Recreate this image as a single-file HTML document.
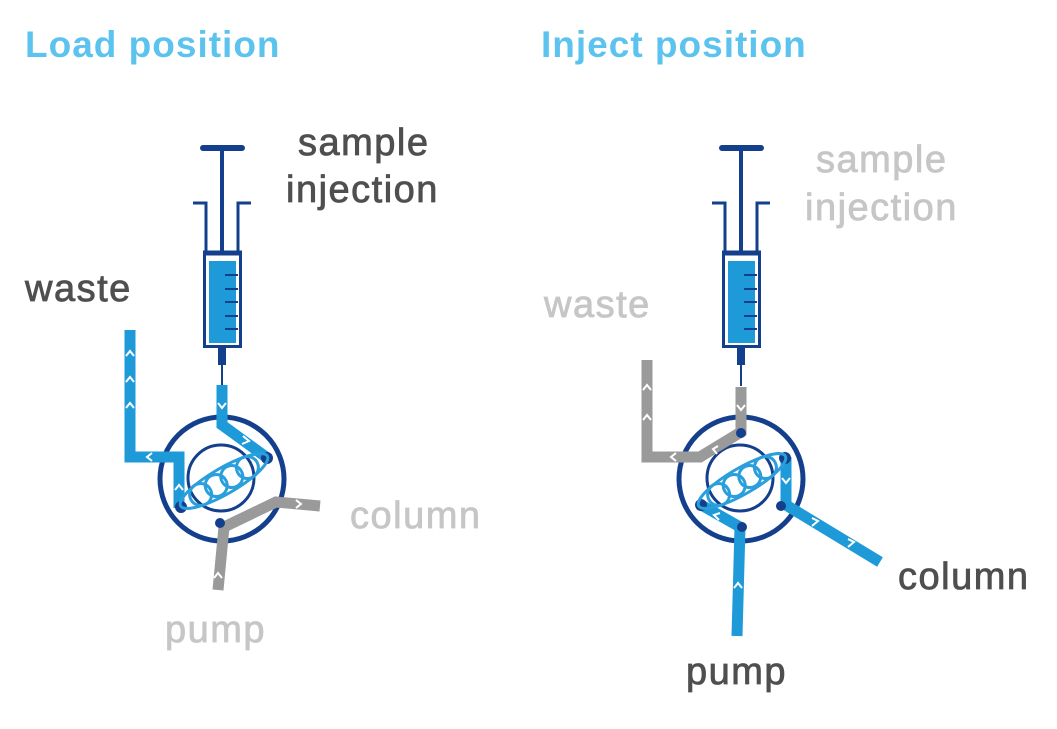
<!DOCTYPE html>
<html><head><meta charset="utf-8"><style>
html,body{margin:0;padding:0;background:#fff;}
svg{display:block;}
text{font-family:"Liberation Sans",sans-serif;}
.t{font-size:37px;font-weight:bold;fill:#5bc3ee;letter-spacing:1px;}
.d{font-size:38px;fill:#4f4f4f;stroke:#4f4f4f;stroke-width:0.8px;letter-spacing:1.5px;}
.g{font-size:38px;fill:#c6c6c6;stroke:#c6c6c6;stroke-width:0.8px;letter-spacing:1.5px;}
</style></head><body>
<svg width="1057" height="729" viewBox="0 0 1057 729" xmlns="http://www.w3.org/2000/svg">
<defs>
<g id="syr">
  <line x1="203" y1="148" x2="242" y2="148" stroke="#143f8c" stroke-width="6" stroke-linecap="round"/>
  <line x1="222" y1="148" x2="222" y2="252" stroke="#143f8c" stroke-width="4"/>
  <polyline points="193,203 206,203 206,253" fill="none" stroke="#143f8c" stroke-width="3"/>
  <polyline points="251,203 238,203 238,253" fill="none" stroke="#143f8c" stroke-width="3"/>
  <rect x="204.5" y="253.5" width="36" height="93" fill="#fff" stroke="#143f8c" stroke-width="3"/>
  <line x1="203" y1="253" x2="242" y2="253" stroke="#143f8c" stroke-width="5"/>
  <rect x="209" y="261" width="27" height="82" fill="#1f9ad8"/>
  <g stroke="#143f8c" stroke-width="2">
    <line x1="225" y1="275" x2="238" y2="275"/><line x1="225" y1="289" x2="238" y2="289"/>
    <line x1="225" y1="302" x2="238" y2="302"/><line x1="225" y1="316" x2="238" y2="316"/>
    <line x1="225" y1="329" x2="238" y2="329"/>
  </g>
  <rect x="218" y="348" width="8" height="17" fill="#143f8c"/>
  <line x1="222" y1="365" x2="222" y2="386" stroke="#143f8c" stroke-width="2"/>
</g>
<g id="valve">
  <circle cx="222" cy="479" r="62" fill="#fff" stroke="#143f8c" stroke-width="5"/>
  <circle cx="221" cy="478" r="33" fill="#fff" stroke="#143f8c" stroke-width="3"/>
</g>
<g id="coil" fill="none" stroke="#2a9fdc" stroke-width="3">
  <ellipse cx="0" cy="0" rx="50" ry="13"/>
  <circle cx="-27" cy="0" r="11"/><circle cx="-9" cy="0" r="11"/>
  <circle cx="9" cy="0" r="11"/><circle cx="27" cy="0" r="11"/>
</g>
</defs>

<text class="t" x="25" y="57">Load position</text>
<text class="t" x="541" y="57">Inject position</text>

<!-- LEFT -->
<use href="#syr"/>
<use href="#valve"/>
<g fill="none" stroke-width="11" stroke-linejoin="miter">
  <polyline points="320,506 276,502 224,527 218,590" stroke="#9a9a9a"/>
  <polyline points="130,330 130,457 179,457 179,508" stroke="#1f9ad8"/>
  <polyline points="222,385 222,425 266,457" stroke="#1f9ad8"/>
</g>
<g fill="#143f8c"><circle cx="181" cy="507" r="6"/><circle cx="267" cy="458" r="6"/><circle cx="220" cy="523" r="5"/></g>
<g transform="translate(224,481) rotate(-30)"><use href="#coil"/></g>
<g fill="none" stroke="#fff" stroke-width="2">
  <polyline points="126,356 130,351 134,356"/><polyline points="126,382 130,377 134,382"/><polyline points="126,408 130,403 134,408"/>
  <polyline points="152,453 147,457 152,461"/><polyline points="175,490 179,485 183,490"/>
  <polyline points="218,403 222,408 226,403"/><polyline points="243,436 249,441 242,444"/>
  <polyline points="214,578 218,573 222,578"/><polyline points="296,500 301,504 296,508"/>
</g>

<!-- RIGHT -->
<g transform="translate(519,0)"><use href="#syr"/><use href="#valve"/></g>
<g fill="none" stroke-width="11" stroke-linejoin="miter">
  <polyline points="647,360 647,457 700,457 741,432 741,387" stroke="#9a9a9a"/>
  <polyline points="786,457 786,505 880,562" stroke="#1f9ad8"/>
  <polyline points="737,636 740,527 703,506" stroke="#1f9ad8"/>
</g>
<g fill="#143f8c"><circle cx="785" cy="458" r="6"/><circle cx="781" cy="506" r="5"/><circle cx="701" cy="505" r="6"/><circle cx="742" cy="527" r="5"/><circle cx="741" cy="433" r="5"/></g>
<g transform="translate(742,481) rotate(-30)"><use href="#coil"/></g>
<g fill="none" stroke="#fff" stroke-width="2">
  <polyline points="643,390 647,385 651,390"/><polyline points="643,420 647,415 651,420"/>
  <polyline points="676,453 671,457 676,461"/><polyline points="718,446 713,449 717,454"/>
  <polyline points="737,405 741,410 745,405"/>
  <polyline points="782,478 786,483 790,478"/><polyline points="812,518 818,521 812,526"/>
  <polyline points="848,539 854,542 848,547"/>
  <polyline points="734,588 738,583 742,588"/><polyline points="720,513 714,515 719,520"/>
</g>

<!-- labels -->
<text class="d" x="298" y="155">sample</text>
<text class="d" x="286" y="202">injection</text>
<text class="d" x="25" y="301">waste</text>
<text class="g" x="350" y="528">column</text>
<text class="g" x="165" y="642">pump</text>

<text class="g" x="816" y="172">sample</text>
<text class="g" x="805" y="220">injection</text>
<text class="g" x="544" y="317">waste</text>
<text class="d" x="898" y="589">column</text>
<text class="d" x="686" y="684">pump</text>
</svg>
</body></html>
